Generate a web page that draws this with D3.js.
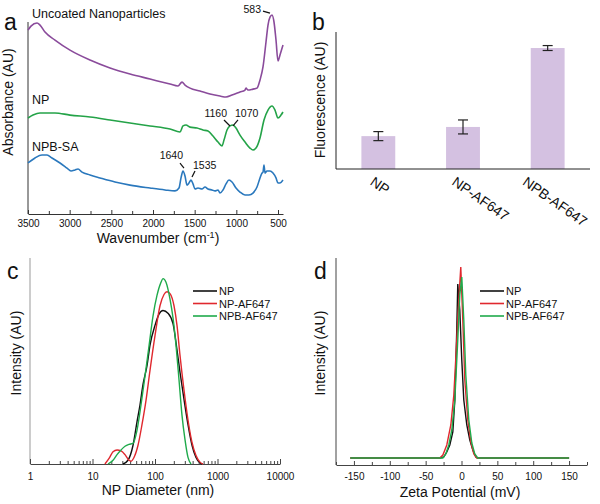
<!DOCTYPE html>
<html>
<head>
<meta charset="utf-8">
<script src="https://cdn.jsdelivr.net/npm/d3@7"></script>
<style>
body { margin: 0; background: #fff; }
text { font-family: "Liberation Sans", Arial, Helvetica, sans-serif; fill: #111; }
</style>
</head>
<body>
<div id="chart"></div>
<script>
// panel a: FTIR spectra (wavenumber cm-1, absorbance AU)
var uncoatedWn = [3500, 3464, 3392, 3356, 3296, 3176, 2996, 2756, 2516, 2276, 2036, 1796, 1700, 1652, 1616, 1556, 1436, 1316, 1196, 1124, 1052, 956, 896, 884, 860, 800, 752, 716, 680, 644, 620, 596, 572, 548, 524, 500, 476, 440];
var uncoatedAbs = [94.8, 96.9, 98.5, 97.4, 93.8, 89.7, 84.5, 79.4, 75.3, 72.2, 69.6, 67.0, 66.0, 68.0, 66.5, 64.9, 63.4, 61.9, 60.8, 60.3, 61.3, 62.9, 63.9, 64.9, 63.9, 64.4, 64.9, 69.1, 75.8, 88.7, 97.4, 101.5, 102.6, 99.0, 89.7, 78.9, 82.0, 87.1];
var npWn = [3500, 3440, 3356, 3176, 2996, 2756, 2516, 2276, 2036, 1796, 1676, 1640, 1604, 1556, 1472, 1400, 1340, 1280, 1220, 1172, 1148, 1112, 1076, 1040, 1004, 956, 896, 836, 800, 764, 716, 668, 620, 572, 536, 500, 464, 440];
var npAbs = [49.5, 51.0, 52.1, 52.1, 51.0, 50.0, 48.5, 46.9, 45.4, 43.8, 42.3, 45.4, 45.9, 44.8, 44.3, 43.3, 42.8, 40.2, 37.1, 35.1, 38.1, 43.3, 45.4, 45.9, 44.3, 40.7, 37.1, 34.0, 33.0, 34.0, 39.2, 48.5, 53.6, 55.7, 53.6, 49.5, 51.0, 52.6];
var npbWn = [3500, 3416, 3332, 3272, 3212, 3116, 3032, 2984, 2936, 2900, 2852, 2756, 2636, 2456, 2276, 2036, 1856, 1736, 1688, 1664, 1640, 1616, 1592, 1568, 1544, 1520, 1496, 1460, 1412, 1376, 1340, 1292, 1256, 1220, 1196, 1160, 1124, 1088, 1052, 1004, 956, 896, 848, 800, 752, 716, 692, 680, 668, 656, 632, 596, 560, 524, 500, 476, 440];
var npbAbs = [26.3, 28.9, 30.4, 30.4, 28.9, 26.3, 23.7, 22.2, 22.7, 23.2, 21.6, 20.1, 18.6, 16.5, 14.9, 13.4, 12.4, 11.9, 13.4, 18.6, 22.2, 19.6, 14.9, 16.0, 17.5, 15.5, 12.9, 13.4, 12.9, 13.9, 12.9, 12.4, 11.9, 12.4, 10.8, 12.4, 15.5, 17.5, 16.5, 13.4, 11.3, 9.8, 9.8, 10.8, 13.9, 18.6, 21.1, 21.6, 25.3, 21.1, 22.2, 22.2, 21.1, 18.6, 16.0, 16.0, 17.5];
var ftirNames = ["Uncoated Nanoparticles", "NP", "NPB-SA"];
var ftirTicks = [3500, 3000, 2500, 2000, 1500, 1000, 500];
var noteLabels = ["583", "1160", "1070", "1640", "1535"];
var noteTipWn = [596, 1076, 1040, 1628, 1532];
var noteTipAbs = [103.6, 45.4, 45.4, 23.7, 19.1];

// panel b: fluorescence
var barCats = ["NP", "NP-AF647", "NPB-AF647"];
var barVals = [24, 30.7, 88.3];
var barErr = [3.3, 5.1, 1.8];

// panel c: DLS size distribution (nm, intensity %)
var dlsNpD = [30.8, 37.0, 44.5, 51.5, 57.5, 64.3, 74.5, 83.2, 100, 115.9, 134.3, 161.4, 194.1, 224.9, 251.2, 291.1, 337.3, 390.8, 452.9, 524.8, 564.9];
var dlsNpI = [0, 0.4, 2.0, 4.5, 6.3, 8.5, 10.5, 12.7, 14.8, 16.0, 16.4, 16.1, 15.0, 12.2, 9.8, 6.9, 4.2, 2.0, 0.7, 0.1, 0];
var dlsAfD = [15.8, 18.4, 21.3, 24.7, 28.6, 33.1, 38.4, 41.3, 46.1, 53.5, 61.9, 71.8, 83.2, 100, 120.2, 139.3, 155.6, 173.8, 201.4, 224.9, 251.2, 291.1, 337.3, 390.8, 452.9, 524.8, 586.1];
var dlsAfI = [0, 0.6, 1.3, 1.5, 1.4, 1.0, 0.4, 0.3, 0.7, 2.0, 4.2, 6.8, 10.0, 13.7, 16.9, 18.1, 18.4, 18.2, 16.9, 14.8, 11.6, 7.9, 4.7, 2.3, 0.9, 0.2, 0];
var dlsNpbD = [17.7, 21.3, 24.7, 28.6, 33.1, 38.4, 44.5, 51.5, 59.7, 69.2, 80.2, 92.9, 107.6, 124.7, 134.3, 150.0, 173.8, 194.1, 216.8, 242.1, 270.4, 302, 337.3, 376.7];
var dlsNpbI = [0, 0.4, 1.0, 1.5, 1.9, 2.1, 2.2, 3.6, 6.3, 9.4, 12.6, 15.8, 18.0, 19.4, 19.8, 19.4, 17.6, 15.6, 12.7, 9.0, 5.2, 2.6, 0.7, 0];
var dlsTicks = [1, 10, 100, 1000, 10000];

// panel d: zeta potential (mV, intensity AU)
var zetaNpV = [-155, -30, -24.7, -20.5, -16.3, -12.1, -9.3, -6.6, -5.2, -2.4, 0.4, 3.2, 7.4, 11.6, 15.8, 20, 22.7, 150];
var zetaNpI = [0, 0, 0.5, 3, 6.5, 13, 29, 64, 87, 74, 49, 29, 16.5, 9, 4, 0.5, 0, 0];
var zetaAfV = [-155, -30.3, -26, -20.5, -14.9, -10.7, -6.6, -3.8, -1, 1.8, 4.6, 8.8, 13, 17.2, 21.3, 150];
var zetaAfI = [0, 0, 1.5, 6.5, 16.5, 31.5, 59, 79, 95.5, 69, 39, 19, 8, 2, 0, 0];
var zetaNpbV = [-155, -26, -21.9, -17.7, -13.5, -9.3, -5.2, -2.4, 0.4, 3.2, 6, 10.2, 14.4, 18.5, 22.7, 150];
var zetaNpbI = [0, 0, 2, 6.5, 14, 29, 59, 81.5, 90.5, 69, 41.5, 19, 7.5, 2, 0, 0];
var zetaTicks = [-150, -100, -50, 0, 50, 100, 150];

var seriesNames = ["NP", "NP-AF647", "NPB-AF647"];
var seriesColors = ["#111111", "#e0282e", "#1faa4b"];

var width = 600,
  height = 504,
  svg = d3
    .select("#chart")
    .append("svg")
    .attr("width", width)
    .attr("height", height);

var plain = function(d) { return String(d); };

function zip(xs, ys) {
  return xs.map(function(v, i) { return [v, ys[i]]; });
}

function panelLetter(t, x, y) {
  svg.append("text").attr("x", x).attr("y", y)
    .style("font-size", "23px").text(t);
}

function yTitle(t, x, y) {
  svg.append("text")
    .attr("transform", `translate(${x},${y}) rotate(-90)`)
    .attr("text-anchor", "middle")
    .style("font-size", "14px")
    .text(t);
}

function styleAxis(g, color) {
  g.selectAll("path, line").attr("stroke", color);
  g.selectAll("text").style("font-size", "10px").attr("fill", "#111")
    .style("font-family", '"Liberation Sans", Arial, sans-serif');
}

// ---------- a ----------
var xa = d3.scaleLinear().domain([3500, 440]).range([28, 283]);
var ya = d3.scaleLinear().domain([0, 99]).range([214, 22]);

svg.append("line").attr("x1", 28).attr("x2", 28).attr("y1", ya(99)).attr("y2", ya(0))
  .attr("stroke", "#333");

var gax = svg.append("g").attr("transform", `translate(0,${ya(0)})`)
  .call(d3.axisBottom(xa).tickValues(ftirTicks).tickFormat(plain).tickSize(-4).tickPadding(6).tickSizeOuter(0));
styleAxis(gax, "#333");
var gaxm = svg.append("g").attr("transform", `translate(0,${ya(0)})`)
  .call(d3.axisBottom(xa).tickValues(d3.range(3250, 400, -500)).tickSize(-3).tickFormat(""));
gaxm.select(".domain").remove();
styleAxis(gaxm, "#333");

var ftirData = [zip(uncoatedWn, uncoatedAbs), zip(npWn, npAbs), zip(npbWn, npbAbs)];
var ftirColors = ["#8a4b9b", "#24a348", "#2a78bd"];
var lineA = d3.line().x(function(d) { return xa(d[0]); }).y(function(d) { return ya(d[1]); })
  .curve(d3.curveMonotoneX);

svg.selectAll(".ftir").data(ftirData).enter().append("path")
  .attr("class", "ftir")
  .attr("d", lineA)
  .attr("fill", "none")
  .attr("stroke", function(d, i) { return ftirColors[i]; })
  .attr("stroke-width", 1.6);

// curve names, placed above the start of each trace
var nameDy = [-5, -9, -4];
svg.selectAll(".ftirName").data(ftirNames).enter().append("text")
  .attr("x", 32)
  .attr("y", function(d, i) { return ya(d3.max(ftirData[i].slice(0, 4), function(p) { return p[1]; })) + nameDy[i]; })
  .style("font-size", "12.5px")
  .text(function(d) { return d; });

// peak labels with leader lines
var noteLead = [[-7, -2], [-6, -6], [5, -6], [-4, -5], [3, -6]];
var noteText = [[-9, 0, "end"], [-3, -9, "end"], [2, -9, "start"], [-1, -9, "end"], [1, -8, "start"]];
noteLabels.forEach(function(t, i) {
  var tx = xa(noteTipWn[i]), ty = ya(noteTipAbs[i]);
  svg.append("line")
    .attr("x1", tx + noteLead[i][0]).attr("y1", ty + noteLead[i][1])
    .attr("x2", tx).attr("y2", ty)
    .attr("stroke", "#111").attr("stroke-width", 1.2);
  svg.append("text")
    .attr("x", tx + noteText[i][0]).attr("y", ty + noteText[i][1])
    .attr("text-anchor", noteText[i][2])
    .style("font-size", "10.5px")
    .text(t);
});

panelLetter("a", 4, 30);
yTitle("Absorbance (AU)", 13, 102);
var ta = svg.append("text").attr("x", 158).attr("y", 243).attr("text-anchor", "middle")
  .style("font-size", "14px");
ta.append("tspan").text("Wavenumber (cm");
ta.append("tspan").attr("dy", -5).style("font-size", "9px").text("-1");
ta.append("tspan").attr("dy", 5).text(")");

// ---------- b ----------
var xb = d3.scaleBand().domain(barCats).range([336, 590]).paddingInner(0.6).paddingOuter(0.3);
var yb = d3.scaleLinear().domain([0, 100]).range([169, 32]);

svg.selectAll(".bar").data(barVals).enter().append("rect")
  .attr("class", "bar")
  .attr("x", function(d, i) { return xb(barCats[i]); })
  .attr("y", function(d) { return yb(d); })
  .attr("width", xb.bandwidth())
  .attr("height", function(d) { return yb(0) - yb(d); })
  .attr("fill", "#d4c1e1");

barVals.forEach(function(v, i) {
  var cx = xb(barCats[i]) + xb.bandwidth() / 2;
  var g = svg.append("g").attr("stroke", "#222").attr("stroke-width", 1.2);
  g.append("line").attr("x1", cx).attr("x2", cx).attr("y1", yb(v - barErr[i])).attr("y2", yb(v + barErr[i]));
  g.append("line").attr("x1", cx - 5).attr("x2", cx + 5).attr("y1", yb(v - barErr[i])).attr("y2", yb(v - barErr[i]));
  g.append("line").attr("x1", cx - 5).attr("x2", cx + 5).attr("y1", yb(v + barErr[i])).attr("y2", yb(v + barErr[i]));
});

svg.append("line").attr("x1", 336).attr("x2", 336).attr("y1", 32).attr("y2", yb(0)).attr("stroke", "#222");
svg.append("line").attr("x1", 336).attr("x2", 590).attr("y1", yb(0)).attr("y2", yb(0)).attr("stroke", "#222");

var labelShift = [0, -3, -17];
svg.selectAll(".bcat").data(barCats).enter().append("text")
  .attr("transform", function(d, i) {
    var cx = xb(d) + xb.bandwidth() / 2 - 9 + labelShift[i];
    return `translate(${cx},184) rotate(35)`;
  })
  .style("font-size", "14px")
  .text(function(d) { return d; });

panelLetter("b", 312, 30);
yTitle("Fluorescence (AU)", 325, 100);

// ---------- c ----------
var xc = d3.scaleLog().domain([1, 10000]).range([30, 280]);
var yc = d3.scaleLinear().domain([0, 22]).range([464, 258]);

svg.append("line").attr("x1", 30).attr("x2", 30).attr("y1", 258).attr("y2", 464).attr("stroke", "#999");
var gcx = svg.append("g").attr("transform", `translate(0,${yc(0)})`)
  .call(d3.axisBottom(xc).tickValues(dlsTicks).tickFormat(plain).tickSize(-5).tickPadding(9).tickSizeOuter(0));
styleAxis(gcx, "#444");
var cMinor = [];
dlsTicks.slice(0, 4).forEach(function(t) { for (var k = 2; k < 10; k++) cMinor.push(t * k); });
var gcm = svg.append("g").attr("transform", `translate(0,${yc(0)})`)
  .call(d3.axisBottom(xc).tickValues(cMinor).tickSize(-3).tickFormat(""));
gcm.select(".domain").remove();
styleAxis(gcm, "#444");

var dlsData = [zip(dlsNpD, dlsNpI), zip(dlsAfD, dlsAfI), zip(dlsNpbD, dlsNpbI)];
var lineC = d3.line().x(function(d) { return xc(d[0]); }).y(function(d) { return yc(d[1]); })
  .curve(d3.curveMonotoneX);
svg.selectAll(".dls").data(dlsData).enter().append("path")
  .attr("class", "dls")
  .attr("d", lineC)
  .attr("fill", "none")
  .attr("stroke", function(d, i) { return seriesColors[i]; })
  .attr("stroke-width", 1.4);

function legend(x, y, step, fs) {
  seriesNames.forEach(function(n, i) {
    svg.append("line").attr("x1", x).attr("x2", x + 24).attr("y1", y + i * step).attr("y2", y + i * step)
      .attr("stroke", seriesColors[i]).attr("stroke-width", 1.6);
    svg.append("text").attr("x", x + 26).attr("y", y + i * step + 4)
      .style("font-size", fs).text(n);
  });
}
legend(193, 291, 12.5, "11px");

panelLetter("c", 7, 279);
yTitle("Intensity (AU)", 21, 353);
svg.append("text").attr("x", 158).attr("y", 495).attr("text-anchor", "middle")
  .style("font-size", "14px").text("NP Diameter (nm)");

// ---------- d ----------
var xd = d3.scaleLinear().domain([-175, 175]).range([336, 587]);
var yd = d3.scaleLinear().domain([-3.5, 100]).range([465, 258]);

svg.append("line").attr("x1", 336).attr("x2", 336).attr("y1", 258).attr("y2", 465).attr("stroke", "#444");
var gdx = svg.append("g").attr("transform", `translate(0,465)`)
  .call(d3.axisBottom(xd).tickValues(zetaTicks).tickFormat(plain).tickSize(-4).tickPadding(8).tickSizeOuter(0));
styleAxis(gdx, "#444");
var gdm = svg.append("g").attr("transform", `translate(0,465)`)
  .call(d3.axisBottom(xd).tickValues(d3.range(-175, 176, 50)).tickSize(-3).tickFormat(""));
gdm.select(".domain").remove();
styleAxis(gdm, "#444");

var zetaData = [zip(zetaNpV, zetaNpI), zip(zetaAfV, zetaAfI), zip(zetaNpbV, zetaNpbI)];
var lineD = d3.line().x(function(d) { return xd(d[0]); }).y(function(d) { return yd(d[1]); });
svg.selectAll(".zeta").data(zetaData).enter().append("path")
  .attr("class", "zeta")
  .attr("d", lineD)
  .attr("fill", "none")
  .attr("stroke", function(d, i) { return seriesColors[i]; })
  .attr("stroke-width", 1.4);

legend(480, 291, 12.5, "11px");

panelLetter("d", 314, 279);
yTitle("Intensity (AU)", 325, 353);
svg.append("text").attr("x", 460).attr("y", 497).attr("text-anchor", "middle")
  .style("font-size", "14px").text("Zeta Potential (mV)");
</script>
</body>
</html>
